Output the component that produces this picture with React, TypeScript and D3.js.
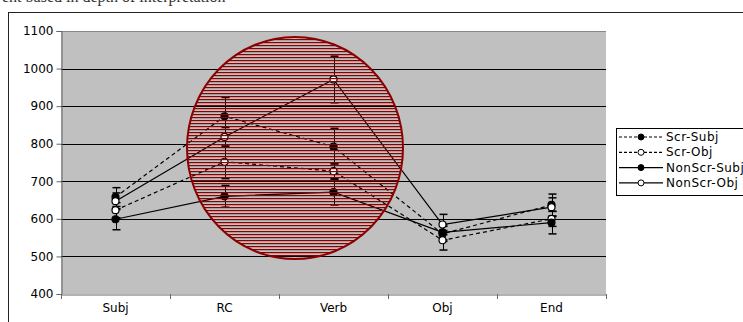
import React, { useRef, useEffect } from 'react';
import * as d3 from 'd3';

const categories = ['Subj', 'RC', 'Verb', 'Obj', 'End'];
const yTicks = [400, 500, 600, 700, 800, 900, 1000, 1100];

const scrSubj = [658, 873, 792, 560, 637];
const scrObj = [623, 752, 727, 543, 600];
const nonScrSubj = [599, 660, 671, 564, 590];
const nonScrObj = [647, 818, 971, 585, 631];

const scrSubjErr = [25, 50, 49, 20, 29];
const scrObjErr = [20, 45, 20, 26, 20];
const nonScrSubjErr = [28, 29, 34, 20, 30];
const nonScrObjErr = [22, 25, 62, 27, 25];

const seriesNames = ['Scr-Subj', 'Scr-Obj', 'NonScr-Subj', 'NonScr-Obj'];

function App() {
  const chartRef = useRef<SVGSVGElement | null>(null);

  useEffect(() => {
    drawChart();
  }, []);

  function drawChart() {
    const svg = d3.select(chartRef.current);
    svg.selectAll('*').remove();

    const font = '"DejaVu Sans", Verdana, sans-serif';
    const series = [
      { name: seriesNames[0], values: scrSubj, err: scrSubjErr, filled: true, dashed: true },
      { name: seriesNames[1], values: scrObj, err: scrObjErr, filled: false, dashed: true },
      { name: seriesNames[2], values: nonScrSubj, err: nonScrSubjErr, filled: true, dashed: false },
      { name: seriesNames[3], values: nonScrObj, err: nonScrObjErr, filled: false, dashed: false },
    ];

    // line of page text above the chart, cropped at the top edge
    svg.append('text')
      .attr('x', 2)
      .attr('y', 2)
      .attr('font-family', '"Liberation Serif", "Times New Roman", serif')
      .attr('font-size', 16)
      .attr('fill', '#333')
      .text('ent based in depth of interpretation');

    // outer chart frame
    svg.append('rect')
      .attr('x', 8.5).attr('y', 12.5)
      .attr('width', 800).attr('height', 400)
      .attr('fill', '#fff')
      .attr('stroke', '#222');

    const x = d3.scaleBand().domain(categories).range([61, 606]);
    const y = d3.scaleLinear().domain([400, 1100]).range([294, 31]);
    const cx = (i: number) => (x(categories[i]) as number) + x.bandwidth() / 2;

    // plot area
    svg.append('rect')
      .attr('x', 61).attr('y', y(1100))
      .attr('width', 545).attr('height', y(400) - y(1100))
      .attr('fill', '#c0c0c0');

    svg.append('g')
      .selectAll('line')
      .data(yTicks.slice(1))
      .join('line')
      .attr('x1', 61).attr('x2', 606)
      .attr('y1', d => Math.round(y(d)) + 0.5)
      .attr('y2', d => Math.round(y(d)) + 0.5)
      .attr('stroke', d => (d === 1100 ? '#888' : '#000'))
      .attr('stroke-width', 1);

    // axes
    const yAxis = d3.axisLeft(y).tickValues(yTicks).tickFormat(d3.format('d')).tickSize(5).tickPadding(3);
    const gy = svg.append('g')
      .attr('transform', 'translate(61.5,0)')
      .call(yAxis);
    gy.select('.domain').attr('stroke', '#666');
    gy.selectAll('.tick line').attr('stroke', '#666');
    gy.selectAll('text').attr('font-family', font).attr('font-size', 12).attr('fill', '#000');

    const xAxis = d3.axisBottom(x).tickSize(0).tickPadding(9);
    const gx = svg.append('g')
      .attr('transform', 'translate(0,294.5)')
      .call(xAxis);
    gx.select('.domain').attr('stroke', '#666');
    gx.selectAll('text').attr('font-family', font).attr('font-size', 12).attr('fill', '#000');
    svg.append('g')
      .selectAll('line')
      .data(d3.range(categories.length + 1))
      .join('line')
      .attr('x1', i => 61.5 + i * x.bandwidth())
      .attr('x2', i => 61.5 + i * x.bandwidth())
      .attr('y1', 294).attr('y2', 299)
      .attr('stroke', '#666');

    // lines
    const line = d3.line<number>()
      .x((d, i) => cx(i))
      .y(d => y(d));

    series.forEach(s => {
      svg.append('path')
        .datum(s.values)
        .attr('fill', 'none')
        .attr('stroke', '#000')
        .attr('stroke-width', 1.2)
        .attr('stroke-dasharray', s.dashed ? '4,3' : null)
        .attr('d', line);
    });

    // error bars
    series.forEach(s => {
      const g = svg.append('g');
      s.values.forEach((v, i) => {
        const px = Math.round(cx(i)) + 0.5;
        g.append('line')
          .attr('x1', px).attr('x2', px)
          .attr('y1', y(v - s.err[i])).attr('y2', y(v + s.err[i]))
          .attr('stroke', '#000');
        [v - s.err[i], v + s.err[i]].forEach(e => {
          g.append('line')
            .attr('x1', px - 4).attr('x2', px + 4)
            .attr('y1', y(e)).attr('y2', y(e))
            .attr('stroke', '#000').attr('stroke-width', 1.5);
        });
      });
    });

    // markers
    series.forEach(s => {
      svg.append('g')
        .selectAll('circle')
        .data(s.values)
        .join('circle')
        .attr('cx', (d, i) => cx(i))
        .attr('cy', d => y(d))
        .attr('r', 3.5)
        .attr('fill', s.filled ? '#000' : '#fff')
        .attr('stroke', '#000')
        .attr('stroke-width', 1.2);
    });

    // striped red ellipse drawn over the middle
    const defs = svg.append('defs');
    const pat = defs.append('pattern')
      .attr('id', 'stripes')
      .attr('patternUnits', 'userSpaceOnUse')
      .attr('width', 8).attr('height', 3);
    pat.append('rect')
      .attr('x', 0).attr('y', 0)
      .attr('width', 8).attr('height', 1.2)
      .attr('fill', '#8b0000');

    svg.append('ellipse')
      .attr('cx', 295).attr('cy', 148)
      .attr('rx', 108).attr('ry', 111)
      .attr('fill', 'url(#stripes)')
      .attr('stroke', '#8b0000')
      .attr('stroke-width', 2);

    // legend
    const lg = svg.append('g');
    lg.append('rect')
      .attr('x', 616.5).attr('y', 128.5)
      .attr('width', 200).attr('height', 67)
      .attr('fill', '#fff')
      .attr('stroke', '#000');
    series.forEach((s, i) => {
      const ly = 137 + i * 15.3;
      lg.append('line')
        .attr('x1', 619).attr('x2', 663)
        .attr('y1', ly).attr('y2', ly)
        .attr('stroke', '#000')
        .attr('stroke-width', 1.2)
        .attr('stroke-dasharray', s.dashed ? '3,2' : null);
      lg.append('circle')
        .attr('cx', 641).attr('cy', ly)
        .attr('r', 3)
        .attr('fill', s.filled ? '#000' : '#fff')
        .attr('stroke', '#000');
      lg.append('text')
        .attr('x', 666).attr('y', ly + 4)
        .attr('font-family', font)
        .attr('font-size', 12)
        .attr('letter-spacing', 0.5)
        .text(s.name);
    });
  }

  return (
    <svg
      ref={chartRef}
      width={743}
      height={322}
      style={{ position: 'fixed', left: 0, top: 0, background: '#fff' }}
    />
  );
}

export default App;
